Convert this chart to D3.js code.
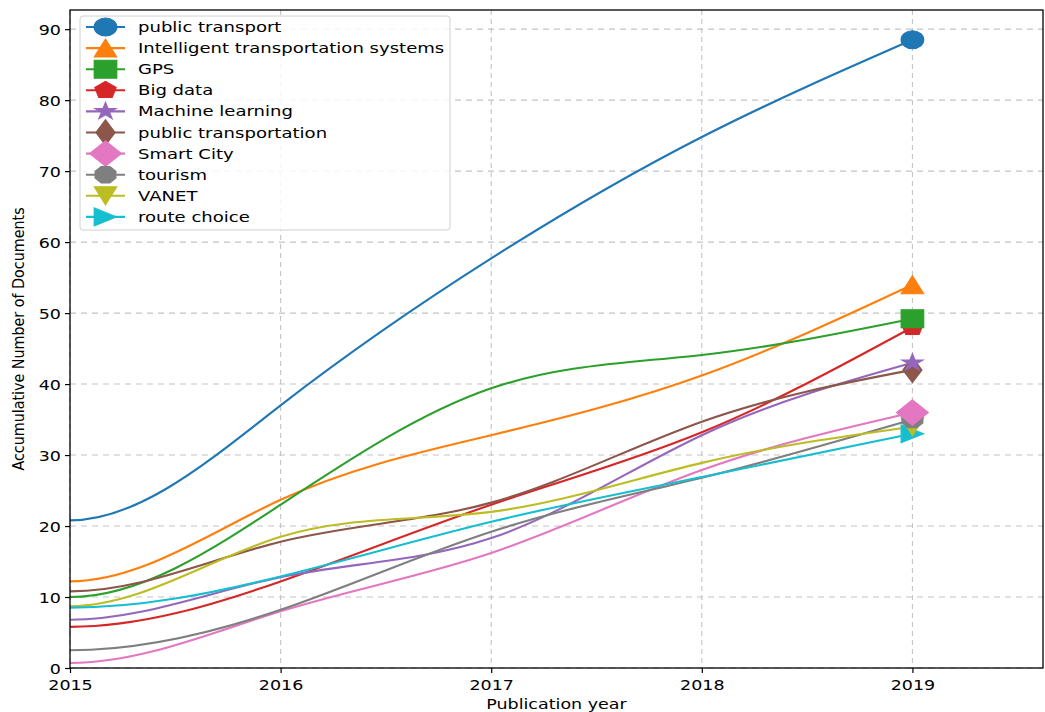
<!DOCTYPE html>
<html>
<head>
<meta charset="utf-8">
<script src="https://cdn.jsdelivr.net/npm/d3@7/dist/d3.min.js"></script>
<style>
  html, body { margin: 0; padding: 0; background: #fff; }
  svg { display: block; }
  text { font-family: "DejaVu Sans", sans-serif; fill: #000; }
</style>
</head>
<body>
<svg id="chart" width="1045" height="712"></svg>
<script>
// Publication years on the x axis
const years = [2015, 2016, 2017, 2018, 2019];

// Accumulative document counts per keyword
const publicTransport      = [20.8, 37.0, 57.7, 74.8, 88.5];
const intelligentTransport = [12.2, 23.7, 32.8, 41.2, 54.0];
const gps                  = [10.0, 23.0, 39.4, 44.1, 49.2];
const bigData              = [5.8, 12.2, 23.0, 33.2, 48.0];
const machineLearning      = [6.8, 12.8, 18.3, 32.8, 43.0];
const publicTransportation = [10.8, 17.8, 23.3, 34.7, 42.0];
const smartCity            = [0.7, 8.0, 16.2, 27.9, 36.0];
const tourism              = [2.5, 8.2, 19.2, 26.8, 35.0];
const vanet                = [8.7, 18.5, 22.0, 28.9, 34.0];
const routeChoice          = [8.5, 12.9, 20.6, 26.9, 33.0];

const seriesNames = ["public transport", "Intelligent transportation systems", "GPS", "Big data",
  "Machine learning", "public transportation", "Smart City", "tourism", "VANET", "route choice"];
const seriesValues = [publicTransport, intelligentTransport, gps, bigData, machineLearning,
  publicTransportation, smartCity, tourism, vanet, routeChoice];
const seriesMarkers = ["circle", "triangleUp", "square", "pentagon", "star",
  "thinDiamond", "diamond", "octagon", "triangleDown", "triangleRight"];
const colors = ["#1f77b4", "#ff7f0e", "#2ca02c", "#d62728", "#9467bd",
  "#8c564b", "#e377c2", "#7f7f7f", "#bcbd22", "#17becf"];

const xTicks = [2015, 2016, 2017, 2018, 2019];
const yTicks = [0, 10, 20, 30, 40, 50, 60, 70, 80, 90];

const xLabel = "Publication year";
const yLabel = "Accumulative Number of Documents";

// ---- layout ----
const plot = { left: 70, right: 1043, top: 10, bottom: 668 };
const STRETCH = 1.25;   // horizontal glyph stretch
const MS = 18;          // marker size

const svg = d3.select("#chart");

const x = d3.scaleLinear().domain([2015, 2019.62]).range([plot.left, plot.right]);
const y = d3.scaleLinear().domain([0, 92.7]).range([plot.bottom, plot.top]);

// Cubic spline: zero slope at the first point, natural at the last one.
function curveClampedSpline(context) {
  let xs, ys;
  return {
    areaStart() {}, areaEnd() {},
    lineStart() { xs = []; ys = []; },
    point(px, py) { xs.push(+px); ys.push(+py); },
    lineEnd() {
      const n = xs.length;
      if (n === 0) return;
      context.moveTo(xs[0], ys[0]);
      if (n === 1) return;
      const h = [], del = [];
      for (let i = 0; i < n - 1; i++) {
        h.push(xs[i + 1] - xs[i]);
        del.push((ys[i + 1] - ys[i]) / h[i]);
      }
      const a = new Array(n).fill(0), b = new Array(n).fill(0),
            c = new Array(n).fill(0), d = new Array(n).fill(0);
      b[0] = 1; c[0] = 0; d[0] = 0;
      for (let i = 1; i < n - 1; i++) {
        a[i] = h[i];
        b[i] = 2 * (h[i - 1] + h[i]);
        c[i] = h[i - 1];
        d[i] = 3 * (h[i] * del[i - 1] + h[i - 1] * del[i]);
      }
      a[n - 1] = 1; b[n - 1] = 2; d[n - 1] = 3 * del[n - 2];
      // Thomas algorithm
      const cp = new Array(n), dp = new Array(n);
      cp[0] = c[0] / b[0]; dp[0] = d[0] / b[0];
      for (let i = 1; i < n; i++) {
        const m = b[i] - a[i] * cp[i - 1];
        cp[i] = c[i] / m;
        dp[i] = (d[i] - a[i] * dp[i - 1]) / m;
      }
      const t = new Array(n);
      t[n - 1] = dp[n - 1];
      for (let i = n - 2; i >= 0; i--) t[i] = dp[i] - cp[i] * t[i + 1];
      for (let i = 0; i < n - 1; i++) {
        const k = h[i] / 3;
        context.bezierCurveTo(xs[i] + k, ys[i] + t[i] * k,
                              xs[i + 1] - k, ys[i + 1] - t[i + 1] * k,
                              xs[i + 1], ys[i + 1]);
      }
    }
  };
}

// Marker outlines centred on the origin
function polygon(nSides, r, rotDeg) {
  const pts = [];
  for (let i = 0; i < nSides; i++) {
    const ang = (rotDeg + i * 360 / nSides) * Math.PI / 180;
    pts.push([r * Math.sin(ang), -r * Math.cos(ang)]);
  }
  return "M" + pts.map(p => p[0].toFixed(2) + "," + p[1].toFixed(2)).join("L") + "Z";
}
function starPath(r, inner) {
  const pts = [];
  for (let i = 0; i < 10; i++) {
    const rr = i % 2 === 0 ? r : r * inner;
    const ang = i * 36 * Math.PI / 180;
    pts.push([rr * Math.sin(ang), -rr * Math.cos(ang)]);
  }
  return "M" + pts.map(p => p[0].toFixed(2) + "," + p[1].toFixed(2)).join("L") + "Z";
}
function markerPath(kind) {
  const r = MS / 2;
  const dg = MS * Math.SQRT2 / 2;
  switch (kind) {
    case "circle": return `M${r},0A${r},${r} 0 1,1 ${-r},0A${r},${r} 0 1,1 ${r},0Z`;
    case "triangleUp": return `M0,${-r}L${r},${r}L${-r},${r}Z`;
    case "triangleDown": return `M0,${r}L${r},${-r}L${-r},${-r}Z`;
    case "triangleRight": return `M${r},0L${-r},${r}L${-r},${-r}Z`;
    case "square": return `M${-r},${-r}H${r}V${r}H${-r}Z`;
    case "pentagon": return polygon(5, r, 0);
    case "octagon": return polygon(8, r, 22.5);
    case "star": return starPath(r, 0.381966);
    case "diamond": return `M0,${-dg}L${dg},0L0,${dg}L${-dg},0Z`;
    case "thinDiamond": return `M0,${-dg}L${dg * 0.6},0L0,${dg}L${-dg * 0.6},0Z`;
  }
}
function drawMarker(g, kind, cx, cy, color) {
  g.append("path")
    .attr("d", markerPath(kind))
    .attr("transform", `translate(${cx},${cy}) scale(${STRETCH},1)`)
    .attr("fill", color)
    .attr("stroke", color)
    .attr("stroke-width", 1)
    .attr("stroke-linejoin", "miter");
}
function stretchedText(g, tx, ty, str, anchor, size) {
  return g.append("text")
    .attr("transform", `translate(${tx},${ty}) scale(${STRETCH},1)`)
    .attr("text-anchor", anchor)
    .attr("font-size", size)
    .text(str);
}

// ---- grid ----
const grid = svg.append("g");
grid.selectAll("line.vx").data(xTicks).join("line")
  .attr("x1", d => x(d)).attr("x2", d => x(d))
  .attr("y1", plot.top).attr("y2", plot.bottom)
  .attr("stroke", "#c4c4c4").attr("stroke-width", 1.1).attr("stroke-dasharray", "5,4");
grid.selectAll("line.hy").data(yTicks).join("line")
  .attr("x1", plot.left).attr("x2", plot.right)
  .attr("y1", d => y(d)).attr("y2", d => y(d))
  .attr("stroke", "#c4c4c4").attr("stroke-width", 1.1).attr("stroke-dasharray", "6,5");

// ---- series lines ----
svg.append("defs").append("clipPath").attr("id", "plotClip")
  .append("rect").attr("x", plot.left).attr("y", plot.top)
  .attr("width", plot.right - plot.left).attr("height", plot.bottom - plot.top);

const line = d3.line().x(d => x(d[0])).y(d => y(d[1])).curve(curveClampedSpline);
const linesG = svg.append("g").attr("clip-path", "url(#plotClip)");
seriesValues.forEach((vals, i) => {
  linesG.append("path")
    .attr("d", line(years.map((yr, j) => [yr, vals[j]])))
    .attr("fill", "none")
    .attr("stroke", colors[i])
    .attr("stroke-width", 2.1);
});

// end-of-series markers (earlier series stacked on top)
const markersG = svg.append("g");
for (let i = seriesValues.length - 1; i >= 0; i--) {
  const vals = seriesValues[i];
  const last = vals.length - 1;
  drawMarker(markersG, seriesMarkers[i], x(years[last]), y(vals[last]), colors[i]);
}

// ---- axes ----
const axes = svg.append("g");
const xAxis = d3.axisBottom(x).tickValues(xTicks).tickFormat(d3.format("d")).tickSize(5).tickPadding(3);
const yAxis = d3.axisLeft(y).tickValues(yTicks).tickSize(5).tickPadding(3);

const gx = axes.append("g").attr("transform", `translate(0,${plot.bottom})`).call(xAxis);
const gy = axes.append("g").attr("transform", `translate(${plot.left},0)`).call(yAxis);
[gx, gy].forEach(g => {
  g.select(".domain").remove();
  g.selectAll(".tick line").attr("stroke", "#000").attr("stroke-width", 1.2);
  g.selectAll(".tick text").remove();
});
gx.selectAll(".tick").each(function (d) {
  stretchedText(d3.select(this), 0, 22, String(d), "middle", 14);
});
gy.selectAll(".tick").each(function (d) {
  stretchedText(d3.select(this), -9, 5, String(d), "end", 14);
});

// frame
axes.append("rect")
  .attr("x", plot.left).attr("y", plot.top)
  .attr("width", plot.right - plot.left).attr("height", plot.bottom - plot.top)
  .attr("fill", "none").attr("stroke", "#000").attr("stroke-width", 1.3);

// axis titles
stretchedText(svg, (plot.left + plot.right) / 2, 709, xLabel, "middle", 14);
svg.append("text")
  .attr("transform", `translate(24,${(plot.top + plot.bottom) / 2}) scale(1.05,1) rotate(-90)`)
  .attr("text-anchor", "middle")
  .attr("font-size", 14.3)
  .text(yLabel);

// ---- legend ----
const legend = svg.append("g");
const lg = { x: 80, y: 16, w: 370, h: 214, row: 21.1, first: 27 };
legend.append("rect")
  .attr("x", lg.x).attr("y", lg.y).attr("width", lg.w).attr("height", lg.h)
  .attr("rx", 3).attr("ry", 3)
  .attr("fill", "#fff").attr("fill-opacity", 0.85)
  .attr("stroke", "#d0d0d0").attr("stroke-width", 1);
seriesNames.forEach((name, i) => {
  const cy = lg.y + (lg.first - lg.y) + i * lg.row;
  legend.append("line")
    .attr("x1", 86).attr("x2", 125).attr("y1", cy).attr("y2", cy)
    .attr("stroke", colors[i]).attr("stroke-width", 2.1);
  drawMarker(legend, seriesMarkers[i], 105.5, cy, colors[i]);
  stretchedText(legend, 138, cy + 5, name, "start", 14.45);
});
</script>
</body>
</html>
